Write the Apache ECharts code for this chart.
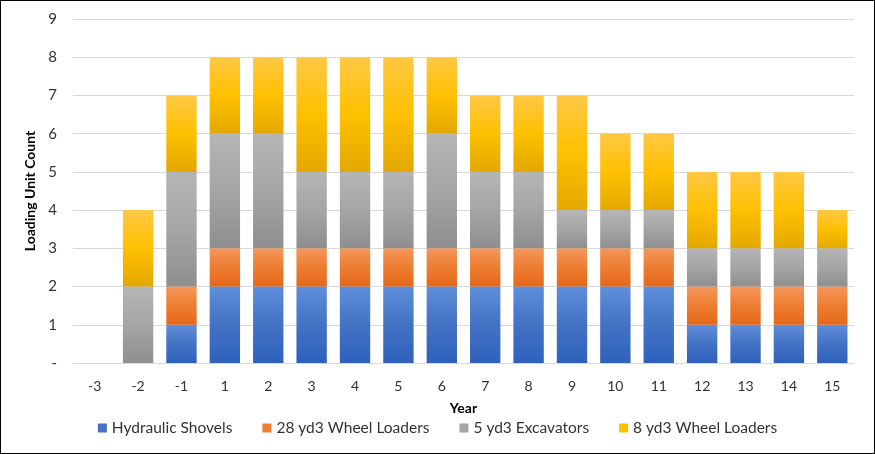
<!DOCTYPE html>
<html>
<head>
<meta charset="utf-8">
<title>Loading Unit Count</title>
<script src="https://cdn.jsdelivr.net/npm/echarts@6/dist/echarts.min.js"></script>
<style>
  html, body { margin: 0; padding: 0; background: #fff; }
  #chart { width: 873px; height: 452px; border: 1px solid #000; }
</style>
</head>
<body>
<div id="chart"></div>
<script>
// 年份
var years = ["-3", "-2", "-1", "1", "2", "3", "4", "5", "6", "7", "8", "9", "10", "11", "12", "13", "14", "15"];
// 各类装载设备数量
var hydraulicShovels = [0, 0, 1, 2, 2, 2, 2, 2, 2, 2, 2, 2, 2, 2, 1, 1, 1, 1];
var wheelLoaders28 = [0, 0, 1, 1, 1, 1, 1, 1, 1, 1, 1, 1, 1, 1, 1, 1, 1, 1];
var excavators5 = [0, 2, 3, 3, 3, 2, 2, 2, 3, 2, 2, 1, 1, 1, 1, 1, 1, 1];
var wheelLoaders8 = [0, 2, 2, 2, 2, 3, 3, 3, 2, 2, 2, 3, 2, 2, 2, 2, 2, 1];
var yTicks = [0, 1, 2, 3, 4, 5, 6, 7, 8, 9];

var font = "Lato, 'Open Sans', sans-serif";

function grad(top, mid, bottom) {
  return new echarts.graphic.LinearGradient(0, 0, 0, 1, [
    { offset: 0, color: top },
    { offset: 0.5, color: mid },
    { offset: 1, color: bottom }
  ]);
}

var seriesDefs = [
  { name: "Hydraulic Shovels", data: hydraulicShovels, color: grad("#5f8edb", "#4472c4", "#2e60bd"), legend: "#4472c4" },
  { name: "28 yd3 Wheel Loaders", data: wheelLoaders28, color: grad("#f4965c", "#ed7d31", "#e4681a"), legend: "#ed7d31" },
  { name: "5 yd3 Excavators", data: excavators5, color: grad("#b5b5b5", "#a5a5a5", "#8e8e8e"), legend: "#a5a5a5" },
  { name: "8 yd3 Wheel Loaders", data: wheelLoaders8, color: grad("#ffc845", "#ffc000", "#e3a800"), legend: "#ffc000" }
];

var myChart = echarts.init(document.getElementById("chart"));
myChart.setOption({
  animation: false,
  color: seriesDefs.map(function (s) { return s.legend; }),
  grid: { left: 72, right: 20, top: 18, bottom: 90, containLabel: false },
  legend: {
    bottom: 12,
    left: "center",
    itemWidth: 9,
    itemHeight: 9,
    itemGap: 30,
    icon: "rect",
    textStyle: { fontFamily: font, fontSize: 15.5, color: "#333" },
    data: seriesDefs.map(function (s) { return { name: s.name, itemStyle: { color: s.legend } }; })
  },
  xAxis: {
    type: "category",
    data: years,
    name: "Year",
    nameLocation: "middle",
    nameGap: 38,
    nameTextStyle: { fontFamily: font, fontSize: 14, fontWeight: "bold", color: "#000" },
    axisLine: { show: true, lineStyle: { color: "#d9d9d9" } },
    axisTick: { show: false },
    axisLabel: { fontFamily: font, fontSize: 14, color: "#333", margin: 16 }
  },
  yAxis: {
    type: "value",
    min: 0,
    max: 9,
    interval: 1,
    name: "Loading Unit Count",
    nameLocation: "middle",
    nameGap: 34,
    nameTextStyle: { fontFamily: font, fontSize: 14, fontWeight: "bold", color: "#000" },
    axisLine: { show: false },
    axisTick: { show: false },
    splitLine: { lineStyle: { color: "#d9d9d9" } },
    axisLabel: {
      fontFamily: font,
      fontSize: 15,
      color: "#333",
      margin: 16,
      formatter: function (v) { return yTicks.indexOf(v) === 0 ? "-" : String(v); }
    }
  },
  series: seriesDefs.map(function (s) {
    return {
      name: s.name,
      type: "bar",
      stack: "total",
      barCategoryGap: "30%",
      data: s.data,
      itemStyle: { color: s.color }
    };
  })
});
</script>
</body>
</html>
